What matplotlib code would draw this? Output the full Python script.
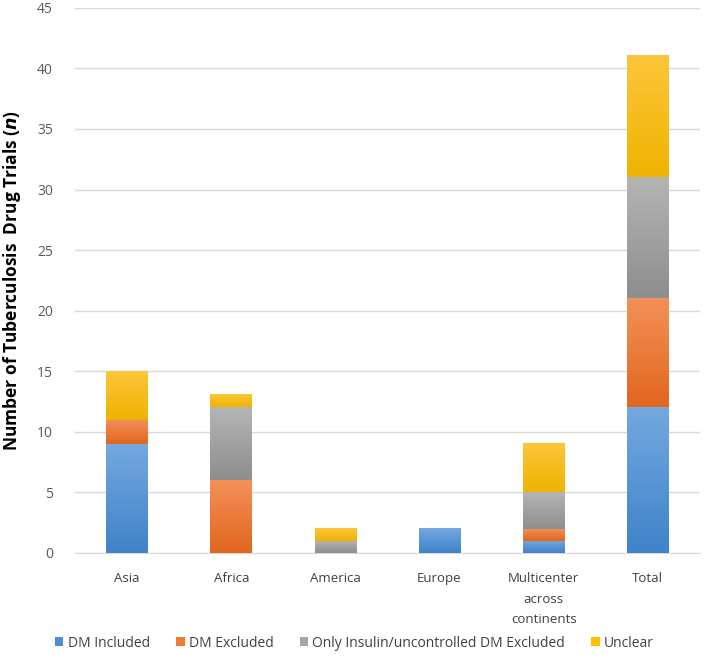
import matplotlib
matplotlib.use('Agg')
import matplotlib.pyplot as plt
from matplotlib.colors import LinearSegmentedColormap
import numpy as np

plt.rcParams['font.family'] = ['Open Sans', 'DejaVu Sans']

# data
regions = ['Asia', 'Africa', 'America', 'Europe', 'Multicenter\nacross\ncontinents', 'Total']
series = ['DM Included', 'DM Excluded', 'Only Insulin/uncontrolled DM Excluded', 'Unclear']
dm_included = [9, 0, 0, 2, 1, 12]
dm_excluded = [2, 6, 0, 0, 1, 9]
only_insulin = [0, 6, 1, 0, 3, 10]
unclear = [4, 1, 1, 0, 4, 10]

# gradient colours (top, bottom) per series
grad = [('#74a8df', '#3f83c9'),
        ('#f39158', '#e2661f'),
        ('#b5b5b5', '#8e8e8e'),
        ('#fcc63a', '#efb300')]
solid = ['#4a8ed3', '#ed7d31', '#a5a5a5', '#ffc000']

fig = plt.figure(figsize=(7.09, 6.58), dpi=100)
ax = fig.add_axes([0.106, 0.16, 0.881, 0.828])

x = np.arange(len(regions))
width = 0.4
bottom = np.zeros(len(regions))
values = [dm_included, dm_excluded, only_insulin, unclear]

for i, vals in enumerate(values):
    vals = np.array(vals, dtype=float)
    bars = ax.bar(x, vals, width, bottom=bottom, color=solid[i], label=series[i], zorder=2)
    cmap = LinearSegmentedColormap.from_list('g%d' % i, [grad[i][1], grad[i][0]])
    for b in bars:
        h = b.get_height()
        if h <= 0:
            continue
        x0, y0 = b.get_x(), b.get_y()
        ax.imshow(np.linspace(0, 1, 64).reshape(-1, 1), cmap=cmap, origin='lower',
                  extent=[x0, x0 + b.get_width(), y0, y0 + h], aspect='auto', zorder=3)
    bottom += vals

ax.set_xlim(-0.5, len(regions) - 0.5)
ax.set_ylim(0, 45)
ax.set_yticks(range(0, 46, 5))
ax.set_xticks(x)
ax.set_xticklabels(regions, fontsize=9.5, color='#404040', linespacing=1.75)
ax.tick_params(axis='y', labelsize=10, colors='#595959', length=0, pad=16)
ax.tick_params(axis='x', length=0, pad=14)
ax.yaxis.grid(True, color='#d9d9d9', linewidth=1, zorder=0)
ax.set_axisbelow(True)
for s in ['top', 'right', 'left']:
    ax.spines[s].set_visible(False)
ax.spines['bottom'].set_color('#d9d9d9')

ax.set_ylabel(r'Number of Tuberculosis  Drug Trials ($\bfit{n}$)', fontsize=12.5,
              fontweight='bold', color='black')
ax.yaxis.set_label_coords(-0.083, 0.5)

handles, labels = ax.get_legend_handles_labels()
fig.legend(handles, labels, loc='lower center', bbox_to_anchor=(0.5, -0.008), ncol=4,
           frameon=False, fontsize=10, handlelength=0.6, handleheight=0.6,
           handletextpad=0.3, columnspacing=1.9, labelcolor='#404040')

fig.savefig('out.png', dpi=100)
